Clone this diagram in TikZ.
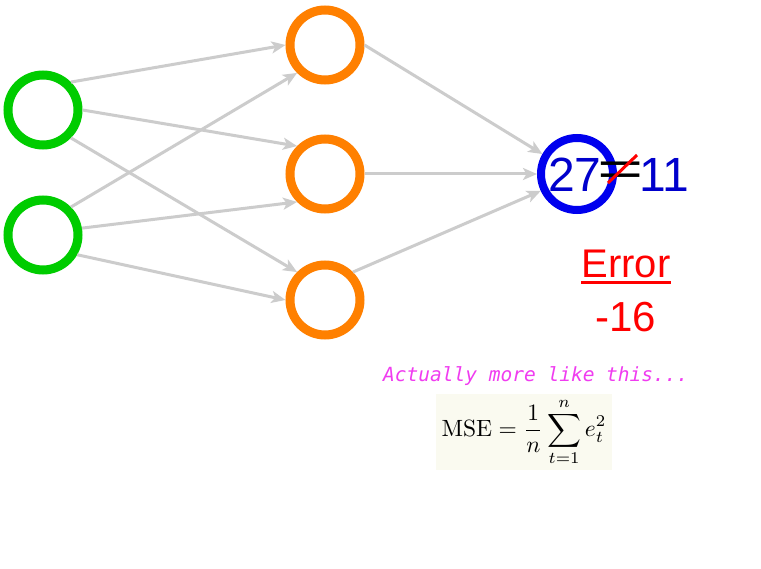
\documentclass[tikz,border=0pt]{standalone}
\usepackage{fontspec}
\usetikzlibrary{arrows.meta,calc,positioning}
\newfontfamily\slidefont{Liberation Sans}
\newfontfamily\notefont{DejaVu Sans Mono}
\definecolor{NetGreen}{HTML}{00CC00}
\definecolor{NetOrange}{HTML}{FF8000}
\definecolor{NetBlue}{HTML}{0000EE}
\definecolor{NetBlueText}{HTML}{0000CC}
\definecolor{NetGrey}{HTML}{CCCCCC}
\definecolor{ErrRed}{HTML}{FF0000}
\definecolor{NoteMagenta}{HTML}{F03CF0}
\definecolor{FormulaPaper}{HTML}{FAFAF0}
\tikzset{
  neuron/.style={circle, minimum size=70pt, inner sep=0pt, line width=9pt},
  inputneuron/.style={neuron, draw=NetGreen},
  hiddenneuron/.style={neuron, draw=NetOrange},
  outputneuron/.style={neuron, draw=NetBlue, minimum size=72pt, line width=8pt},
  weight/.style={-{Stealth[length=14pt,width=12pt,inset=3.5pt]}, draw=NetGrey, line width=3pt},
  bigtext/.style={font=\slidefont\fontsize{48}{52}\selectfont, inner sep=0pt},
  errtext/.style={font=\slidefont\fontsize{40}{44}\selectfont, text=ErrRed, inner sep=0pt},
  strike/.style={draw=ErrRed, line width=3pt},
  underbar/.style={draw=ErrRed, line width=3pt},
  notetext/.style={font=\notefont\itshape\fontsize{19.5}{22}\selectfont, text=NoteMagenta, inner sep=0pt},
  formula/.style={fill=FormulaPaper, inner xsep=6pt, inner ysep=4pt},
}
\begin{document}
\begin{tikzpicture}[x=1pt,y=-1pt]
  \fill[white] (0,0) rectangle (761,569);
  \useasboundingbox (0,0) rectangle (761,569);
  % Input layer
  \node[inputneuron] (in1) at (43,110) {};
  \node[inputneuron] (in2) at (43,235) {};
  % Hidden layer
  \node[hiddenneuron] (hid1) at (325,45) {};
  \node[hiddenneuron] (hid2) at (325,174) {};
  \node[hiddenneuron] (hid3) at (325,300) {};
  % Output
  \node[outputneuron] (out) at (577,174) {};
  % Weights
  \draw[weight] (in1.45) -- (hid1.180);
  \draw[weight] (in1.0) -- (hid2.135);
  \draw[weight] (in1.-45) -- (hid3.135);
  \draw[weight] (in2.45) -- (hid1.225);
  \draw[weight] (in2.10) -- (hid2.225);
  \draw[weight] (in2.-30) -- (hid3.180);
  \draw[weight] (hid1.0) -- (out.150);
  \draw[weight] (hid2.0) -- (out.180);
  \draw[weight] (hid3.45) -- (out.205);
  % Prediction vs target
  \node[bigtext, text=NetBlueText, anchor=base west] (guess) at (548,192) {27};
  \node[bigtext, anchor=base] (eqsign) at (621,186) {\scalebox{1.65}[1]{=}};
  \node[bigtext, text=NetBlueText, anchor=base west] (target) at (639,192) {11};
  \draw[strike] ($(eqsign.base)+(-13,-3)$) -- ($(eqsign.base)+(16,-31)$);
  % Error
  \node[errtext, anchor=base] (errlabel) at (626,278) {Error};
  \draw[underbar] ([yshift=-5pt]errlabel.base west) -- ([yshift=-5pt]errlabel.base east);
  \node[errtext, anchor=base, font=\slidefont\fontsize{42}{46}\selectfont] (errvalue) at (626,332) {-16};
  % Note and formula
  \node[notetext, anchor=base west] (note) at (383,382) {Actually more like this...};
  \node[formula] (mse) at (524,432) {\scalebox{2.35}{$\displaystyle \mathrm{MSE} = \frac{1}{n}\sum_{t=1}^{n} e_t^2$}};
\end{tikzpicture}
\end{document}
